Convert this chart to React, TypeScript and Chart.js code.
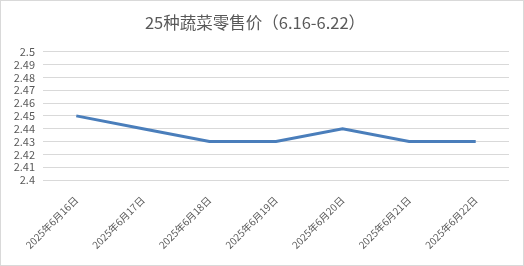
import React, { useEffect, useRef } from "react";
import { Chart, registerables } from "chart.js";

Chart.register(...registerables);

const categories = [
  "2025年6月16日",
  "2025年6月17日",
  "2025年6月18日",
  "2025年6月19日",
  "2025年6月20日",
  "2025年6月21日",
  "2025年6月22日",
];
const prices = [2.45, 2.44, 2.43, 2.43, 2.44, 2.43, 2.43];
const titleText = "25种蔬菜零售价（6.16-6.22）";
const yMin = 2.4;
const yMax = 2.5;
const yStep = 0.01;

const FONT = "'Noto Sans CJK SC', 'Noto Sans', sans-serif";

export default function App() {
  const ref = useRef<HTMLCanvasElement | null>(null);
  useEffect(() => {
    if (!ref.current) return;
    const chart = new Chart(ref.current, {
      type: "line",
      data: {
        labels: categories,
        datasets: [
          {
            data: prices,
            borderColor: "#4A7EBB",
            backgroundColor: "#4A7EBB",
            borderWidth: 3,
            pointRadius: 0,
            tension: 0,
            fill: false,
          },
        ],
      },
      options: {
        animation: false,
        responsive: false,
        layout: { padding: { left: 0, right: 14, top: 0, bottom: 0 } },
        plugins: {
          legend: { display: false },
          tooltip: { enabled: false },
          title: {
            display: true,
            text: titleText,
            color: "#595959",
            font: { family: FONT, size: 16.5, weight: "normal" },
            padding: { top: 12, bottom: 19 },
          },
        },
        scales: {
          x: {
            offset: true,
            grid: { display: false, drawTicks: false },
            border: { display: false },
            ticks: {
              color: "#595959",
              font: { family: FONT, size: 10 },
              minRotation: 45,
              maxRotation: 45,
              autoSkip: false,
              padding: 14,
            },
            afterFit: (s: any) => {
              s.height = 85;
            },
          },
          y: {
            min: yMin,
            max: yMax,
            grid: { color: "#D9D9D9", drawTicks: false, lineWidth: 1 },
            border: { display: false },
            ticks: {
              stepSize: yStep,
              autoSkip: false,
              color: "#595959",
              font: { family: FONT, size: 11 },
              padding: 8,
              callback: (v: any) => String(Math.round(Number(v) * 100) / 100),
            },
            afterFit: (s: any) => {
              s.width = 42;
            },
          },
        },
      },
    });
    return () => chart.destroy();
  }, []);
  return (
    <div
      style={{
        position: "fixed",
        left: 0,
        top: 0,
        width: 524,
        height: 266,
        boxSizing: "border-box",
        border: "1px solid #D9D9D9",
        background: "#fff",
      }}
    >
      <canvas ref={ref} width={522} height={264} style={{ display: "block" }} />
    </div>
  );
}
